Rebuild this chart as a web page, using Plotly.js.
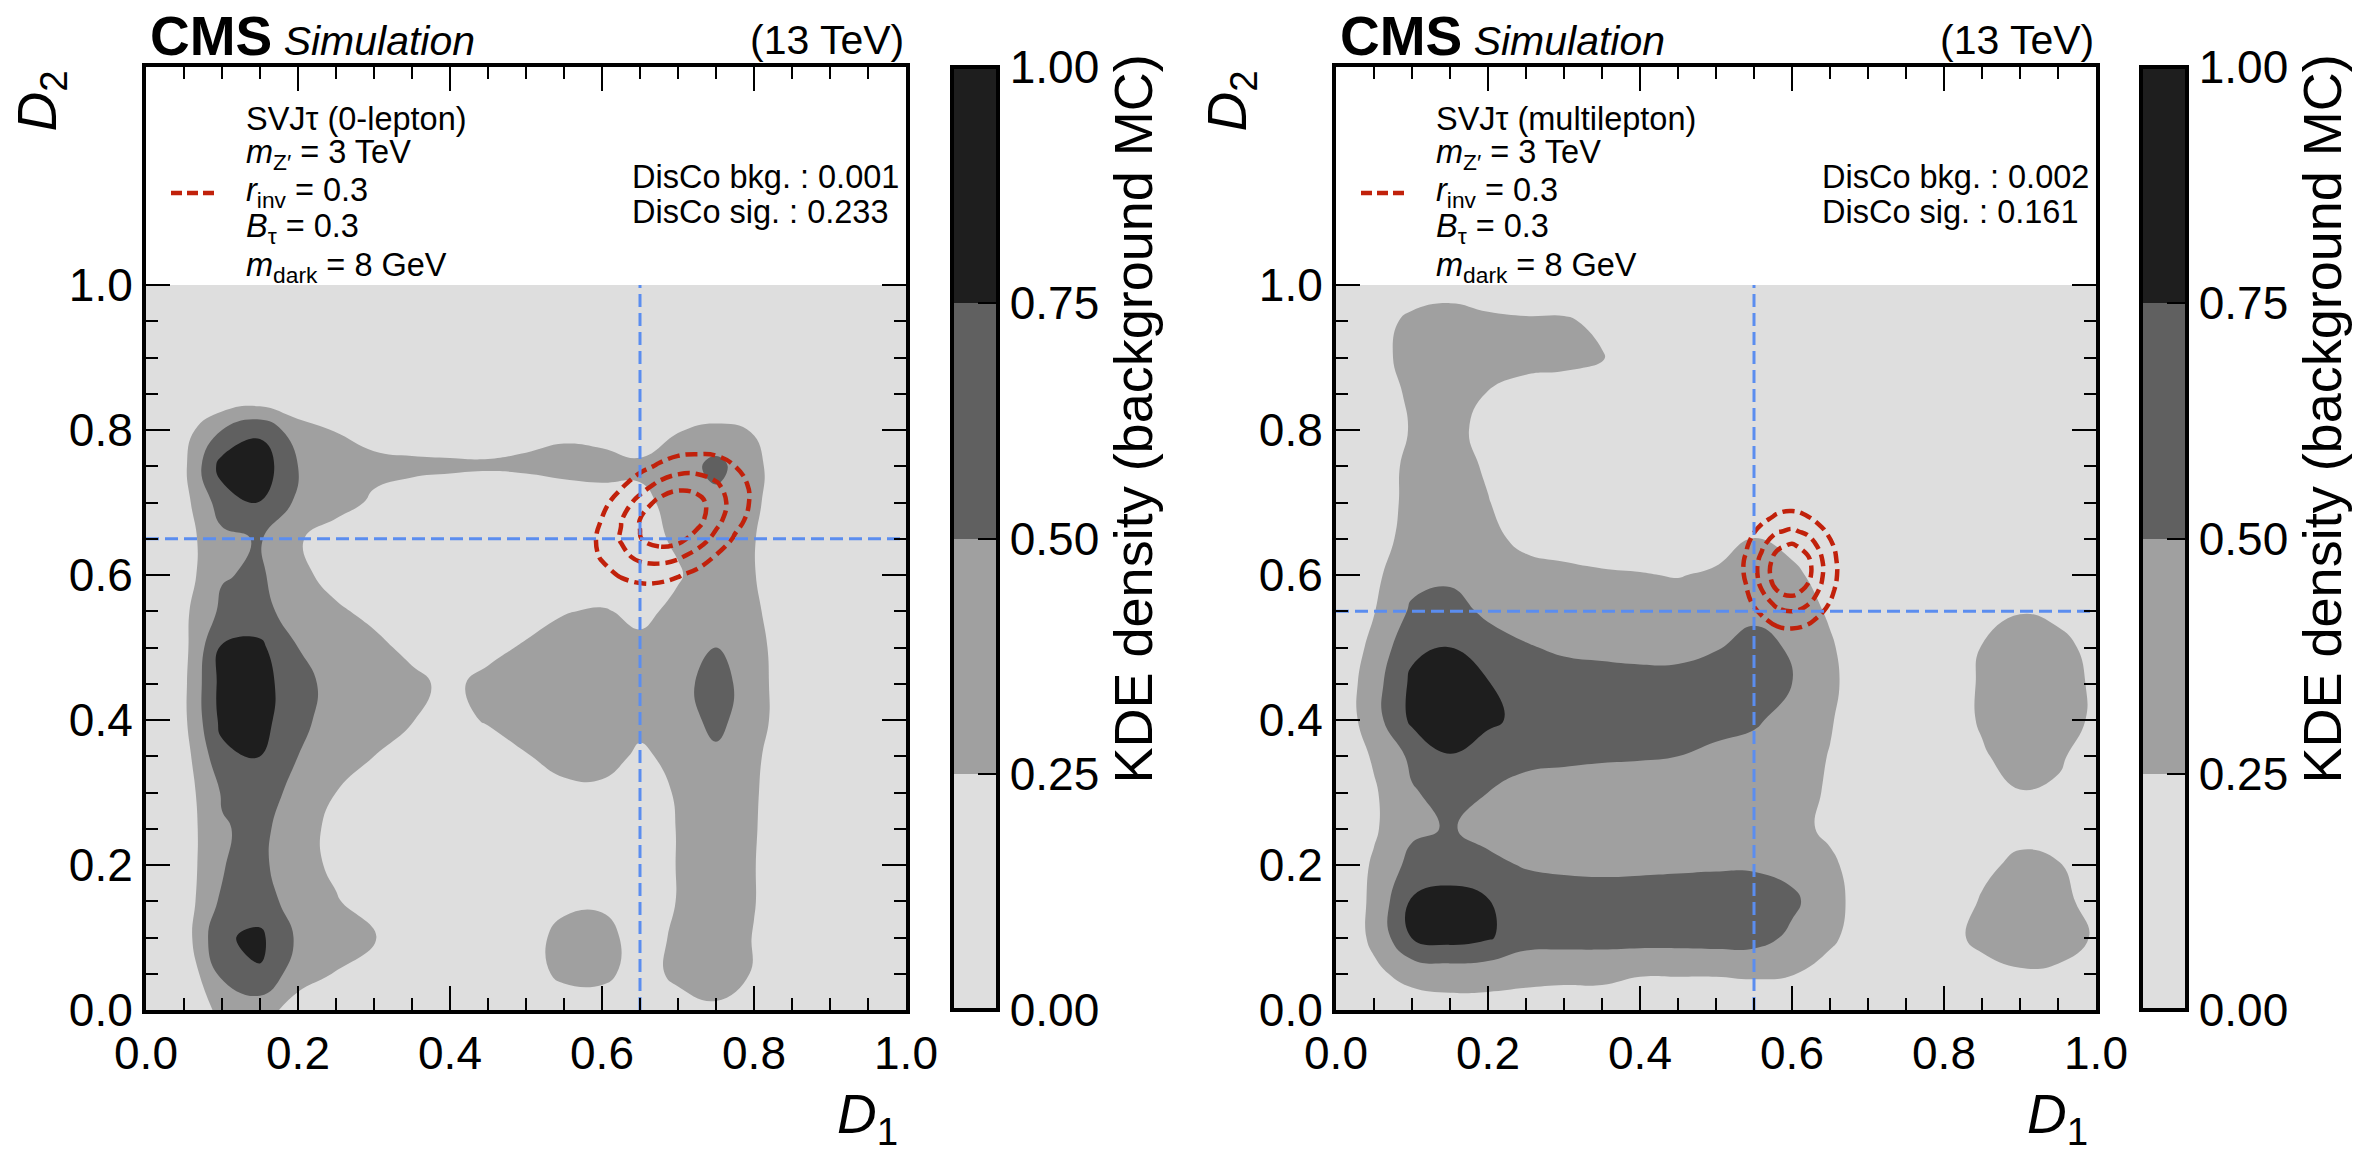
<!DOCTYPE html>
<html>
<head>
<meta charset="utf-8">
<script src="https://cdn.plot.ly/plotly-3.0.1.min.js"></script>
<style>html,body{margin:0;padding:0;background:#fff;}#chart{width:2365px;height:1159px;}</style>
</head>
<body>
<div id="chart"></div>
<script>
// ---------------- DATA ----------------
// KDE grid coordinates (D1 along x, D2 along y)
const gridD1 = [0,0.05,0.1,0.15,0.2,0.25,0.3,0.35,0.4,0.45,0.5,0.55,0.6,0.65,0.7,0.75,0.8,0.85,0.9,0.95,1];
const gridD2 = [0,0.05,0.1,0.15,0.2,0.25,0.3,0.35,0.4,0.45,0.5,0.55,0.6,0.65,0.7,0.75,0.8,0.85,0.9,0.95,1];

// background KDE density, 0-lepton (rows = D2, cols = D1)
const bkgDensity0L = [
[0.02,0.10,0.30,0.35,0.15,0.06,0.04,0.03,0.03,0.03,0.04,0.06,0.07,0.05,0.12,0.20,0.12,0.04,0.02,0.02,0.01],
[0.04,0.05,0.55,0.73,0.35,0.24,0.08,0.04,0.03,0.03,0.12,0.32,0.33,0.12,0.32,0.40,0.23,0.06,0.02,0.02,0.02],
[0.05,0.12,0.72,0.80,0.46,0.35,0.26,0.10,0.04,0.03,0.12,0.35,0.36,0.12,0.30,0.40,0.24,0.06,0.03,0.02,0.02],
[0.05,0.12,0.55,0.62,0.38,0.27,0.12,0.05,0.03,0.03,0.06,0.18,0.20,0.10,0.26,0.40,0.26,0.06,0.03,0.02,0.02],
[0.05,0.12,0.49,0.55,0.35,0.20,0.06,0.04,0.03,0.03,0.03,0.05,0.06,0.10,0.26,0.40,0.26,0.05,0.02,0.02,0.02],
[0.05,0.12,0.48,0.56,0.36,0.18,0.06,0.04,0.03,0.03,0.03,0.05,0.06,0.10,0.26,0.40,0.27,0.05,0.02,0.02,0.02],
[0.05,0.13,0.52,0.62,0.42,0.25,0.10,0.05,0.04,0.06,0.12,0.20,0.21,0.15,0.27,0.42,0.28,0.05,0.02,0.02,0.02],
[0.05,0.15,0.68,0.76,0.50,0.38,0.25,0.10,0.05,0.08,0.24,0.32,0.32,0.22,0.30,0.46,0.30,0.06,0.02,0.02,0.02],
[0.05,0.20,0.82,0.85,0.55,0.42,0.32,0.26,0.15,0.28,0.32,0.34,0.33,0.30,0.40,0.56,0.38,0.05,0.02,0.02,0.02],
[0.05,0.20,0.84,0.87,0.56,0.44,0.36,0.30,0.20,0.32,0.36,0.38,0.37,0.36,0.42,0.60,0.38,0.05,0.02,0.02,0.02],
[0.05,0.18,0.78,0.80,0.50,0.38,0.30,0.20,0.10,0.18,0.28,0.33,0.34,0.30,0.36,0.50,0.36,0.05,0.02,0.02,0.02],
[0.05,0.20,0.55,0.60,0.35,0.28,0.20,0.10,0.06,0.08,0.14,0.24,0.27,0.20,0.30,0.40,0.30,0.05,0.02,0.02,0.02],
[0.04,0.14,0.48,0.54,0.30,0.18,0.10,0.06,0.05,0.05,0.06,0.08,0.08,0.15,0.23,0.38,0.26,0.05,0.02,0.02,0.02],
[0.04,0.15,0.44,0.52,0.27,0.15,0.08,0.06,0.05,0.05,0.06,0.08,0.10,0.18,0.28,0.40,0.26,0.05,0.02,0.02,0.02],
[0.04,0.17,0.62,0.76,0.45,0.33,0.22,0.16,0.13,0.12,0.13,0.16,0.19,0.20,0.32,0.42,0.30,0.05,0.02,0.02,0.02],
[0.04,0.20,0.85,0.90,0.50,0.36,0.30,0.29,0.28,0.27,0.28,0.30,0.30,0.29,0.36,0.58,0.32,0.05,0.02,0.02,0.02],
[0.03,0.15,0.50,0.70,0.35,0.24,0.18,0.15,0.15,0.17,0.20,0.22,0.20,0.12,0.24,0.30,0.24,0.04,0.02,0.02,0.02],
[0.02,0.02,0.01,0.01,0.02,0.03,0.03,0.03,0.03,0.03,0.03,0.04,0.04,0.03,0.03,0.02,0.03,0.02,0.01,0.01,0.01],
[0.01,0.01,0.01,0.01,0.01,0.01,0.02,0.02,0.02,0.02,0.02,0.02,0.02,0.02,0.02,0.01,0.01,0.01,0.01,0.01,0.01],
[0.01,0.01,0.01,0.01,0.01,0.01,0.01,0.01,0.01,0.01,0.01,0.01,0.01,0.01,0.01,0.01,0.01,0.01,0.01,0.01,0.01],
[0.01,0.01,0.01,0.01,0.01,0.01,0.01,0.01,0.01,0.01,0.01,0.01,0.01,0.01,0.01,0.01,0.01,0.01,0.01,0.01,0.01]
];

// background KDE density, multilepton (rows = D2, cols = D1)
const bkgDensityML = [
[0.02,0.06,0.12,0.15,0.15,0.14,0.14,0.14,0.14,0.14,0.14,0.14,0.10,0.06,0.03,0.02,0.04,0.08,0.10,0.08,0.04],
[0.03,0.20,0.33,0.36,0.35,0.32,0.30,0.30,0.26,0.26,0.26,0.27,0.26,0.15,0.06,0.04,0.06,0.14,0.22,0.20,0.08],
[0.05,0.30,0.76,0.85,0.78,0.60,0.60,0.60,0.60,0.60,0.61,0.60,0.45,0.30,0.10,0.05,0.14,0.33,0.40,0.38,0.22],
[0.05,0.30,0.78,0.85,0.76,0.65,0.63,0.62,0.62,0.63,0.64,0.63,0.55,0.34,0.12,0.05,0.10,0.27,0.38,0.34,0.14],
[0.05,0.28,0.58,0.62,0.56,0.48,0.45,0.44,0.45,0.46,0.47,0.47,0.42,0.30,0.10,0.04,0.05,0.20,0.30,0.27,0.08],
[0.04,0.22,0.45,0.52,0.42,0.38,0.36,0.35,0.35,0.35,0.36,0.36,0.33,0.20,0.06,0.03,0.04,0.10,0.18,0.12,0.04],
[0.04,0.22,0.48,0.58,0.50,0.42,0.38,0.37,0.36,0.37,0.38,0.38,0.35,0.22,0.06,0.03,0.05,0.14,0.24,0.20,0.06],
[0.04,0.28,0.55,0.74,0.62,0.56,0.55,0.53,0.52,0.50,0.46,0.42,0.36,0.24,0.07,0.03,0.08,0.22,0.36,0.30,0.08],
[0.05,0.40,0.80,0.88,0.80,0.68,0.66,0.63,0.60,0.58,0.56,0.53,0.42,0.27,0.08,0.04,0.10,0.28,0.40,0.38,0.20],
[0.05,0.40,0.80,0.85,0.76,0.66,0.62,0.60,0.58,0.56,0.57,0.57,0.50,0.30,0.10,0.04,0.10,0.28,0.40,0.38,0.20],
[0.04,0.32,0.70,0.76,0.62,0.52,0.46,0.44,0.43,0.45,0.49,0.56,0.48,0.28,0.08,0.03,0.08,0.26,0.36,0.34,0.16],
[0.03,0.24,0.54,0.60,0.45,0.38,0.35,0.34,0.34,0.36,0.40,0.46,0.38,0.22,0.06,0.03,0.04,0.12,0.24,0.18,0.06],
[0.03,0.20,0.42,0.45,0.38,0.32,0.29,0.27,0.26,0.24,0.28,0.34,0.30,0.15,0.05,0.03,0.03,0.03,0.04,0.03,0.02],
[0.02,0.10,0.38,0.40,0.30,0.20,0.18,0.16,0.14,0.12,0.16,0.26,0.18,0.08,0.03,0.02,0.02,0.02,0.02,0.02,0.02],
[0.02,0.10,0.33,0.36,0.26,0.12,0.08,0.06,0.05,0.05,0.06,0.10,0.08,0.04,0.02,0.02,0.02,0.02,0.02,0.02,0.02],
[0.02,0.10,0.32,0.35,0.22,0.08,0.05,0.04,0.03,0.03,0.03,0.04,0.04,0.03,0.02,0.02,0.02,0.02,0.02,0.02,0.02],
[0.02,0.08,0.27,0.34,0.16,0.06,0.04,0.03,0.03,0.02,0.02,0.02,0.02,0.02,0.02,0.02,0.02,0.02,0.02,0.02,0.02],
[0.02,0.10,0.30,0.36,0.24,0.14,0.10,0.06,0.03,0.02,0.02,0.02,0.02,0.02,0.02,0.02,0.02,0.02,0.02,0.02,0.02],
[0.02,0.12,0.38,0.42,0.38,0.35,0.34,0.27,0.10,0.03,0.02,0.02,0.02,0.02,0.02,0.02,0.02,0.02,0.02,0.02,0.02],
[0.02,0.12,0.32,0.36,0.32,0.29,0.29,0.18,0.05,0.02,0.02,0.02,0.02,0.02,0.02,0.02,0.02,0.02,0.02,0.02,0.02],
[0.01,0.04,0.08,0.14,0.05,0.01,0.01,0.01,0.01,0.01,0.01,0.01,0.01,0.01,0.01,0.01,0.01,0.01,0.01,0.01,0.01]
];

// signal KDE density (normalised), 0-lepton
const sig0L_D1 = [0.575,0.6,0.625,0.65,0.675,0.7,0.725,0.75,0.775,0.8,0.825];
const sig0L_D2 = [0.575,0.6,0.625,0.65,0.675,0.7,0.725,0.75,0.775];
const sigDensity0L = [
[0.06,0.10,0.13,0.15,0.14,0.10,0.07,0.03,0.01,0.01,0.01],
[0.10,0.18,0.27,0.33,0.33,0.27,0.18,0.10,0.05,0.02,0.01],
[0.14,0.27,0.43,0.56,0.60,0.54,0.39,0.23,0.11,0.05,0.02],
[0.14,0.30,0.52,0.74,0.86,0.83,0.65,0.42,0.22,0.10,0.03],
[0.12,0.26,0.49,0.76,0.95,0.99,0.84,0.58,0.33,0.16,0.06],
[0.07,0.18,0.36,0.60,0.82,0.92,0.84,0.63,0.39,0.20,0.08],
[0.04,0.09,0.21,0.37,0.55,0.66,0.65,0.53,0.36,0.19,0.09],
[0.01,0.04,0.09,0.18,0.28,0.37,0.39,0.35,0.25,0.15,0.07],
[0.01,0.01,0.03,0.07,0.11,0.16,0.18,0.18,0.14,0.09,0.05]
];

// signal KDE density (normalised), multilepton
const sigML_D1 = [0.52,0.54,0.56,0.58,0.6,0.62,0.64,0.66,0.68];
const sigML_D2 = [0.5,0.52,0.54,0.56,0.58,0.6,0.62,0.64,0.66,0.68,0.7,0.72];
const sigDensityML = [
[0.01,0.02,0.05,0.07,0.08,0.07,0.04,0.02,0.01],
[0.02,0.06,0.11,0.17,0.19,0.16,0.10,0.05,0.02],
[0.04,0.11,0.22,0.34,0.38,0.32,0.20,0.09,0.03],
[0.06,0.18,0.36,0.55,0.62,0.52,0.32,0.15,0.05],
[0.09,0.24,0.50,0.76,0.85,0.71,0.44,0.20,0.07],
[0.10,0.28,0.58,0.88,0.99,0.83,0.51,0.24,0.08],
[0.10,0.28,0.56,0.85,0.96,0.81,0.50,0.23,0.08],
[0.08,0.23,0.46,0.70,0.79,0.66,0.41,0.19,0.06],
[0.06,0.16,0.32,0.48,0.54,0.45,0.28,0.13,0.04],
[0.03,0.09,0.18,0.28,0.32,0.26,0.16,0.08,0.03],
[0.02,0.04,0.09,0.14,0.15,0.13,0.08,0.04,0.01],
[0.01,0.02,0.04,0.06,0.06,0.05,0.03,0.02,0.01]
];

// ABCD cut values [D1 cut, D2 cut]
const cuts0L = [0.65, 0.65];
const cutsML = [0.55, 0.55];

// DisCo values [bkg, sig]
const disco0L = ['0.001', '0.233'];
const discoML = ['0.002', '0.161'];

// labels
const channels = ['SVJτ (0-lepton)', 'SVJτ (multilepton)'];
const signalParams = ['<i>m</i><sub>Z′</sub> = 3 TeV', '<i>r</i><sub>inv</sub> = 0.3', '<i>B</i><sub>τ</sub> = 0.3', '<i>m</i><sub>dark</sub> = 8 GeV'];
const axisTickVals = [0, 0.2, 0.4, 0.6, 0.8, 1.0];
const axisTickText = ['0.0', '0.2', '0.4', '0.6', '0.8', '1.0'];
const minorTickVals = [0.05,0.1,0.15,0.25,0.3,0.35,0.45,0.5,0.55,0.65,0.7,0.75,0.85,0.9,0.95];
const cbarTickVals = [0, 0.25, 0.5, 0.75, 1.0];
const cbarTickText = ['0.00', '0.25', '0.50', '0.75', '1.00'];
const densityLevels = {start: 0, end: 1, size: 0.25};
const signalLevels = {start: 0.25, end: 0.75, size: 0.25};

// ---------------- STYLE / LAYOUT ----------------
const W = 2365, H = 1159;
const FONT = 'Liberation Sans, Arial, Helvetica, sans-serif';
const RED = '#c1210b';
const BLUE = '#5b8def';
const px = v => v / W;
const py = v => 1 - v / H;

const greyScale = [[0,'#dedede'],[0.3,'#dedede'],[0.3,'#a0a0a0'],[0.5,'#a0a0a0'],[0.5,'#606060'],[0.7,'#606060'],[0.7,'#1e1e1e'],[1,'#1e1e1e']];

const panels = [
  {xa: 'x', ya: 'y', left: 146, right: 906, cbarX: 952, dens: bkgDensity0L, sx: sig0L_D1, sy: sig0L_D2, sz: sigDensity0L, cuts: cuts0L, disco: disco0L, chan: channels[0]},
  {xa: 'x2', ya: 'y2', left: 1336, right: 2096, cbarX: 2141, dens: bkgDensityML, sx: sigML_D1, sy: sigML_D2, sz: sigDensityML, cuts: cutsML, disco: discoML, chan: channels[1]}
];
const TOP = 67, BOTTOM = 1010;

const traces = [];
const annotations = [];
const shapes = [];

panels.forEach((p, k) => {
  traces.push({
    type: 'contour', x: gridD1, y: gridD2, z: p.dens, xaxis: p.xa, yaxis: p.ya,
    zmin: 0, zmax: 1, zauto: false,
    autocontour: false, contours: Object.assign({coloring: 'fill', showlines: false}, densityLevels),
    colorscale: greyScale, line: {width: 0, smoothing: 1.3},
    hoverinfo: 'skip',
    colorbar: {
      x: px(p.cbarX), xanchor: 'left', xpad: 0, y: py(BOTTOM), yanchor: 'bottom', ypad: 0,
      len: BOTTOM - TOP, lenmode: 'pixels', thickness: 46, thicknessmode: 'pixels',
      outlinewidth: 4, outlinecolor: '#000',
      tickmode: 'array', tickvals: cbarTickVals, ticktext: cbarTickText,
      ticks: 'inside', ticklen: 22, tickwidth: 2, tickcolor: '#000',
      tickfont: {family: FONT, size: 46, color: '#000'}
    }
  });
  traces.push({
    type: 'contour', x: p.sx, y: p.sy, z: p.sz, xaxis: p.xa, yaxis: p.ya,
    autocontour: false, contours: Object.assign({coloring: 'none', showlines: true}, signalLevels),
    line: {color: RED, width: 4.5, dash: '12px,6px', smoothing: 1.3},
    showscale: false, hoverinfo: 'skip'
  });
  traces.push({
    type: 'scatter', mode: 'lines', x: [p.cuts[0], p.cuts[0]], y: [0, 1], xaxis: p.xa, yaxis: p.ya,
    line: {color: BLUE, width: 3, dash: '13px,6px'}, hoverinfo: 'skip', showlegend: false
  });
  traces.push({
    type: 'scatter', mode: 'lines', x: [0, 1], y: [p.cuts[1], p.cuts[1]], xaxis: p.xa, yaxis: p.ya,
    line: {color: BLUE, width: 3, dash: '13px,6px'}, hoverinfo: 'skip', showlegend: false
  });

  const L = p.left, R = p.right;
  // header
  annotations.push({text: '<b>CMS</b><span style="font-size:41px"> <i>Simulation</i></span>', x: px(L + 2), y: py(36), xanchor: 'left', yanchor: 'middle', font: {size: 55}});
  annotations.push({text: '(13 TeV)', x: px(R), y: py(40), xanchor: 'right', yanchor: 'middle', font: {size: 41}});
  // axis titles
  annotations.push({text: '<i>D</i><sub>1</sub>', x: px(R - 6), y: py(1118), xanchor: 'right', yanchor: 'middle', font: {size: 55}});
  annotations.push({text: '<i>D</i><sub>2</sub>', x: px(L - 106), y: py(TOP + 2), xanchor: 'center', yanchor: 'top', textangle: -90, font: {size: 55}});
  // colorbar title
  annotations.push({text: 'KDE density (background MC)', x: px(p.cbarX + 181), y: py(TOP - 14), xanchor: 'center', yanchor: 'top', textangle: -90, font: {size: 54}});
  // legend block
  const lineY = [119, 155, 193, 229, 267];
  const legendLines = [p.chan].concat(signalParams);
  legendLines.forEach((t, i) => {
    annotations.push({text: t, x: px(L + 98), y: py(lineY[i]), xanchor: 'left', yanchor: 'middle', font: {size: 32.5}});
  });
  shapes.push({type: 'line', xref: 'paper', yref: 'paper', x0: px(L + 25), x1: px(L + 71), y0: py(193), y1: py(193), line: {color: RED, width: 4.5, dash: '11px,5px'}});
  // DisCo
  annotations.push({text: 'DisCo bkg. : ' + p.disco[0], x: px(L + 484), y: py(177), xanchor: 'left', yanchor: 'middle', font: {size: 32.5}});
  annotations.push({text: 'DisCo sig. : ' + p.disco[1], x: px(L + 484), y: py(212), xanchor: 'left', yanchor: 'middle', font: {size: 32.5}});
});

annotations.forEach(a => { a.xref = 'paper'; a.yref = 'paper'; a.showarrow = false; a.font = Object.assign({family: FONT, color: '#000'}, a.font); });

function xAxis(domain, anchor) {
  return {
    domain: domain, anchor: anchor, range: [0, 1], fixedrange: true,
    showline: true, linewidth: 4, linecolor: '#000', mirror: 'ticks',
    showgrid: false, zeroline: false,
    tickmode: 'array', tickvals: axisTickVals, ticktext: axisTickText,
    ticks: 'inside', ticklen: 24, tickwidth: 2.5, tickcolor: '#000',
    tickfont: {family: FONT, size: 46, color: '#000'},
    minor: {tickmode: 'array', tickvals: minorTickVals, ticks: 'inside', ticklen: 12, tickwidth: 2, tickcolor: '#000', showgrid: false}
  };
}
function yAxis(domain, anchor) {
  const a = xAxis(domain, anchor);
  a.range = [0, (BOTTOM - TOP) / 725];
  return a;
}

const yDom = [1 - BOTTOM / H, 1 - TOP / H];
const layout = {
  width: W, height: H, margin: {l: 0, r: 0, t: 0, b: 0},
  paper_bgcolor: '#fff', plot_bgcolor: '#fff',
  font: {family: FONT, color: '#000'},
  showlegend: false,
  xaxis: xAxis([px(146), px(906)], 'y'),
  yaxis: yAxis(yDom, 'x'),
  xaxis2: xAxis([px(1336), px(2096)], 'y2'),
  yaxis2: yAxis(yDom, 'x2'),
  annotations: annotations,
  shapes: shapes
};

Plotly.newPlot('chart', traces, layout, {displayModeBar: false, staticPlot: true});
</script>
</body>
</html>
